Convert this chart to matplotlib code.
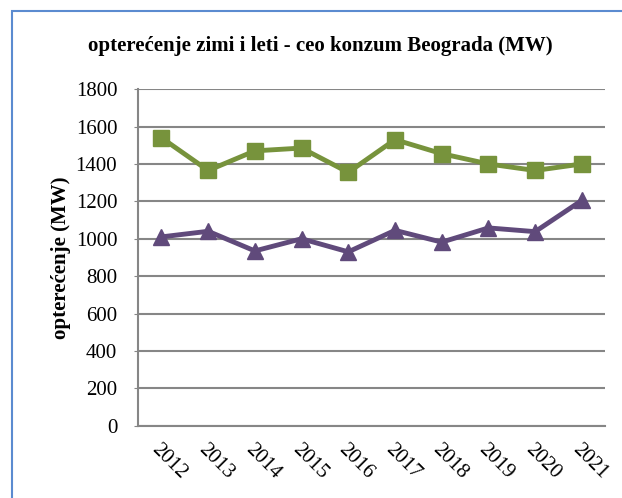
import matplotlib.pyplot as plt
from matplotlib.patches import Rectangle

years = ["2012", "2013", "2014", "2015", "2016", "2017", "2018", "2019", "2020", "2021"]
zima = [1540, 1365, 1470, 1485, 1355, 1530, 1455, 1400, 1365, 1400]
leto = [1010, 1040, 935, 1000, 930, 1045, 982, 1058, 1038, 1205]

plt.rcParams["font.family"] = ["Liberation Serif", "DejaVu Serif"]

fig = plt.figure(figsize=(6.22, 4.98), dpi=100)
ax = fig.add_axes([0.222, 0.145, 0.751, 0.676])

x = range(len(years))
ax.plot(x, zima, color="#77933C", linewidth=3.5, marker="s", markersize=11, zorder=3)
ax.plot(x, leto, color="#604A7B", linewidth=3.5, marker="^", markersize=11, zorder=3)

ax.set_xlim(-0.5, len(years) - 0.5)
ax.set_ylim(0, 1800)
ax.set_yticks(range(0, 1801, 200))
ax.set_xticks(list(x))
ax.set_xticklabels(years, rotation=-45, ha="left", va="top", rotation_mode="anchor", fontsize=15)
ax.tick_params(axis="y", labelsize=15, length=3, color="#868686", pad=12)
ax.tick_params(axis="x", length=0, pad=10)
ax.grid(axis="y", color="#868686", linewidth=1.5)
ax.set_axisbelow(True)
for s in ["top", "right"]:
    ax.spines[s].set_visible(False)
ax.spines["left"].set_color("#868686")
ax.spines["bottom"].set_color("#868686")
ax.spines["left"].set_linewidth(1.5)
ax.spines["bottom"].set_linewidth(1.5)

ax.set_ylabel("opterećenje (MW)", fontsize=15, fontweight="bold", labelpad=3)
fig.text(0.515, 0.908, "opterećenje zimi i leti - ceo konzum Beograda (MW)",
         ha="center", va="center", fontsize=15, fontweight="bold")

fig.patches.append(Rectangle((12 / 622, -0.05), 1.2, 1 - 11 / 498 + 0.05,
                             transform=fig.transFigure, fill=False,
                             edgecolor="#5B8BD0", linewidth=1.5))

fig.savefig("out.png", dpi=100)
